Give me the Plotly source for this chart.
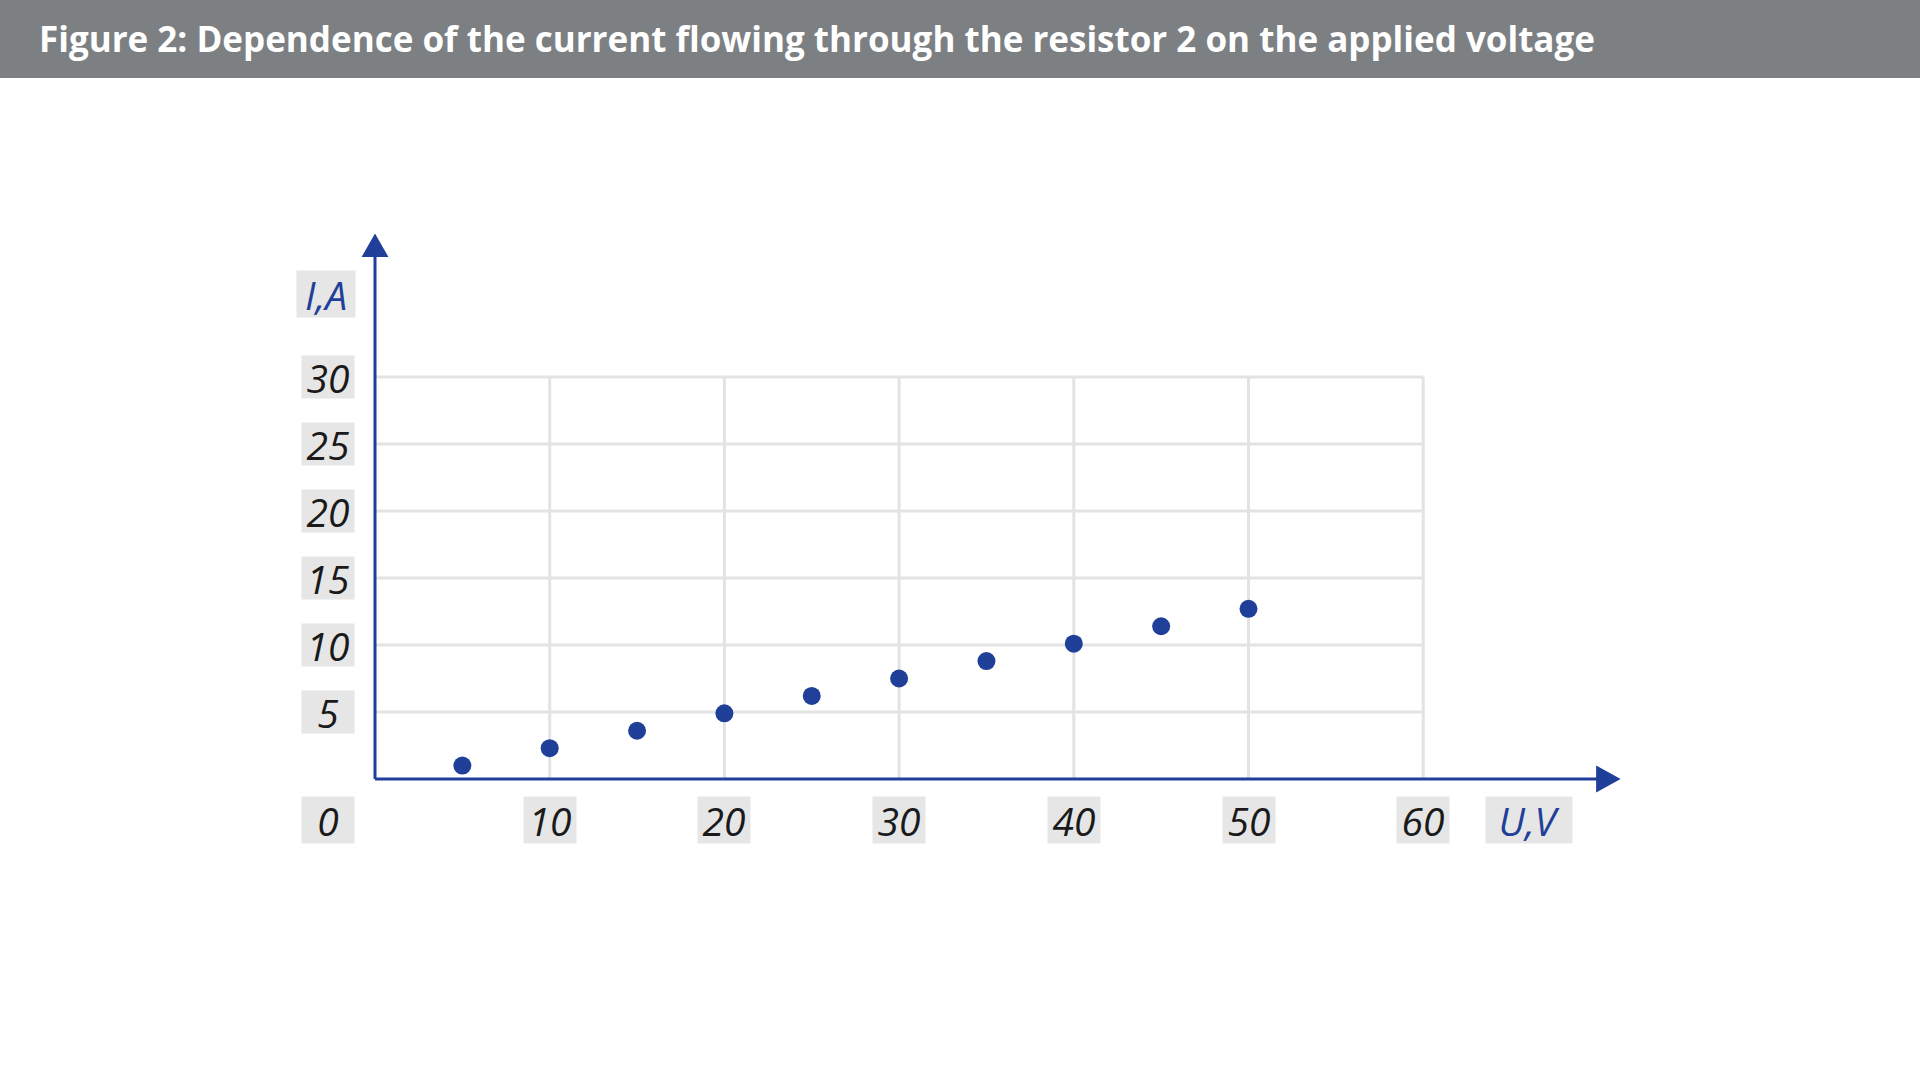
import plotly.graph_objects as go

voltage = [5, 10, 15, 20, 25, 30, 35, 40, 45, 50]
current = [1.0, 2.3, 3.6, 4.9, 6.2, 7.5, 8.8, 10.1, 11.4, 12.7]
x_ticks = [10, 20, 30, 40, 50, 60]
y_ticks = [5, 10, 15, 20, 25, 30]
title = "Figure 2: Dependence of the current flowing through the resistor 2 on the applied voltage"

BLUE = "#1f3f99"
GRID = "#e3e3e3"
BOX = "#e6e6e6"
W, H = 1920, 1080
x0px, xs = 375, 17.47
y0px, ys = 779, 13.4
xr = [-x0px / xs, (W - x0px) / xs]
yr = [-(H - y0px) / ys, y0px / ys]

fig = go.Figure()
fig.add_trace(go.Scatter(x=voltage, y=current, mode="markers",
                         marker=dict(size=18, color=BLUE), hoverinfo="skip"))

shapes = []
for t in x_ticks:
    shapes.append(dict(type="line", x0=t, x1=t, y0=0, y1=30, line=dict(color=GRID, width=3), layer="below"))
for t in y_ticks:
    shapes.append(dict(type="line", x0=0, x1=60, y0=t, y1=t, line=dict(color=GRID, width=3), layer="below"))
shapes.append(dict(type="line", x0=0, x1=70, y0=0, y1=0, line=dict(color=BLUE, width=3)))
shapes.append(dict(type="line", x0=0, x1=0, y0=0, y1=39.5, line=dict(color=BLUE, width=3)))
shapes.append(dict(type="path", path="M 69.9 -1 L 71.3 0 L 69.9 1 Z", fillcolor=BLUE, line=dict(width=0)))
shapes.append(dict(type="path", path="M -0.77 38.95 L 0 40.7 L 0.77 38.95 Z", fillcolor=BLUE, line=dict(width=0)))
shapes.append(dict(type="rect", xref="paper", yref="paper", x0=0, x1=1, y0=1 - 78 / H, y1=1,
                   fillcolor="#7d8083", line=dict(width=0)))

ann = []
fnt = dict(family="Open Sans", size=39, color="#1a1a1a", style="italic")
ylab_x = (268 / 0.8167 - x0px) / xs
xlab_y = -(670 / 0.8167 - y0px) / ys
for t in y_ticks:
    ann.append(dict(x=ylab_x, y=t, text=str(t), showarrow=False, font=fnt, bgcolor=BOX,
                    width=50, height=40))
for t in x_ticks:
    ann.append(dict(x=t, y=xlab_y, text=str(t), showarrow=False, font=fnt, bgcolor=BOX,
                    width=50, height=44))
ann.append(dict(x=ylab_x, y=xlab_y, text="0", showarrow=False, font=fnt, bgcolor=BOX, width=50, height=44))
bf = dict(fnt, color=BLUE)
ann.append(dict(x=(1249 / 0.8167 - x0px) / xs, y=xlab_y, text="U,V", showarrow=False, font=bf,
                bgcolor=BOX, width=84, height=44))
ann.append(dict(x=(266 / 0.8167 - x0px) / xs, y=(y0px - 240 / 0.8167) / ys, text="I,A", showarrow=False,
                font=bf, bgcolor=BOX, width=56, height=44))
ann.append(dict(xref="paper", yref="paper", x=37 / W, y=1 - 38 / H, xanchor="left", yanchor="middle",
                text="<b>" + title + "</b>", showarrow=False,
                font=dict(family="Open Sans", size=35, color="white")))

fig.update_layout(width=W, height=H, margin=dict(l=0, r=0, t=0, b=0),
                  plot_bgcolor="white", paper_bgcolor="white", showlegend=False,
                  xaxis=dict(range=xr, visible=False, fixedrange=True),
                  yaxis=dict(range=yr, visible=False, fixedrange=True),
                  shapes=shapes, annotations=ann)
fig.write_html("out.html", config={"displayModeBar": False},
               post_script="document.body.style.margin='0';")
